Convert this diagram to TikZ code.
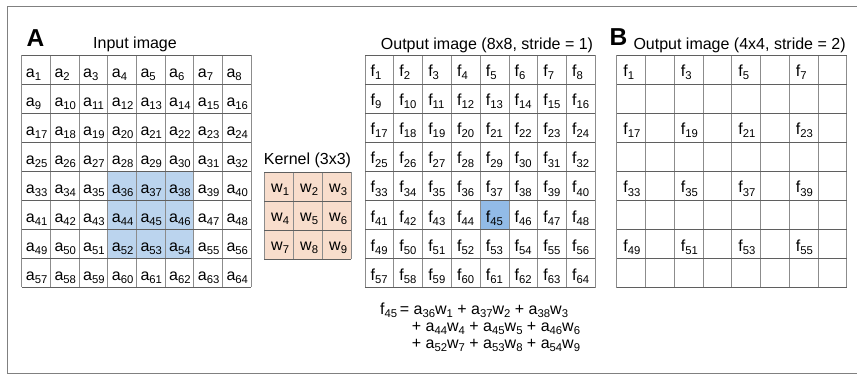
\documentclass[tikz,border=0pt]{standalone}
\usepackage{fontspec}
\setmainfont{Liberation Sans}
\definecolor{selblue}{RGB}{187,212,238}
\definecolor{outblue}{RGB}{146,187,231}
\definecolor{kernpeach}{RGB}{248,221,204}
\definecolor{rowgray}{RGB}{95,95,95}
\definecolor{colgray}{RGB}{140,140,140}
\definecolor{framegray}{RGB}{128,128,128}
% lowered, smaller index digits (kept out of the line's height and depth)
\newcommand\sbs[1]{\raisebox{-3.2pt}[0pt][0pt]{\fontsize{11.3}{11}\selectfont #1}}
\begin{document}
\begin{tikzpicture}[x=1pt,y=-1pt,
  font=\fontsize{16}{19}\selectfont,
  rowline/.style={draw=rowgray, line width=0.8pt},
  colline/.style={draw=colgray, line width=0.8pt},
  cell/.style={anchor=base west, inner sep=0pt},
  title/.style={anchor=base, inner sep=0pt},
  panel/.style={anchor=base west, inner sep=0pt, font=\fontsize{24.5}{26}\selectfont\bfseries},
  eqline/.style={anchor=base west, inner sep=0pt}]
\useasboundingbox (0,0) rectangle (857,375);

% outer frame (open on the right)
\draw[framegray, line width=1.4pt] (870,6.5) -- (7.3,6.5) -- (7.3,373.5) -- (870,373.5);

% panel letters and titles
\node[panel] (labA) at (26.5,46.7) {A};
\node[panel] (labB) at (609.5,45) {B};
\node[title] (tin) at (135,48) {Input image};
\node[title] (tker) at (307.5,164.5) {Kernel (3x3)};
\node[title] (tout) at (487,49) {Output image (8x8, stride = 1)};
\node[anchor=base west, inner sep=0pt] (tstr) at (633.3,49.3) {Output image (4x4, stride = 2)};

% ---------- input image ----------
\fill[selblue] (108,171.7) rectangle (194,258.3);
\foreach \i in {0,...,8} {
  \draw[colline] ({21.7+\i*28.66},55) -- ({21.7+\i*28.66},287.3);
}
\foreach \i in {0,...,8} {
  \draw[rowline] (21.7,{55+\i*29.04}) -- (251,{55+\i*29.04});
}
\foreach \r in {0,...,7} {
  \foreach \c in {0,...,7} {
    \pgfmathtruncatemacro\n{\r*8+\c+1}
    \node[cell] (a\n) at ({21.7+\c*28.66+4},{55+\r*29.04+22}) {a\sbs{\n}};
  }
}

% ---------- kernel ----------
\fill[kernpeach] (264,172.3) rectangle (351,259.3);
\foreach \i in {0,...,3} {
  \draw[colline] ({264+\i*29},172.3) -- ({264+\i*29},259.3);
}
\foreach \i in {0,...,3} {
  \draw[rowline] (264,{172.3+\i*29}) -- (351,{172.3+\i*29});
}
\foreach \r in {0,...,2} {
  \foreach \c in {0,...,2} {
    \pgfmathtruncatemacro\n{\r*3+\c+1}
    \node[cell] (w\n) at ({264+\c*29+7},{172.3+\r*29+20}) {w\sbs{\n}};
  }
}

% ---------- output, stride 1 ----------
\fill[outblue] ({365+4*28.79},{55+5*29.1}) rectangle ({365+5*28.79},{55+6*29.1});
\foreach \i in {0,...,8} {
  \draw[colline] ({365+\i*28.79},55) -- ({365+\i*28.79},287.8);
}
\foreach \i in {0,...,8} {
  \draw[rowline] (365,{55+\i*29.1}) -- (595.3,{55+\i*29.1});
}
\foreach \r in {0,...,7} {
  \foreach \c in {0,...,7} {
    \pgfmathtruncatemacro\n{\r*8+\c+1}
    \node[cell] (f\n) at ({365+\c*28.79+5.5},{55+\r*29.1+21.5}) {f\sbs{\n}};
  }
}

% ---------- output, stride 2 ----------
\foreach \i in {0,...,8} {
  \draw[colline] ({616.7+\i*28.75},55) -- ({616.7+\i*28.75},287.7);
}
\foreach \i in {0,...,8} {
  \draw[rowline] (616.7,{55+\i*29.09}) -- (846.7,{55+\i*29.09});
}
\foreach \r in {0,2,4,6} {
  \foreach \c in {0,2,4,6} {
    \pgfmathtruncatemacro\n{\r*8+\c+1}
    \node[cell] (s\n) at ({616.7+\c*28.75+6.5},{55+\r*29.09+21.5}) {f\sbs{\n}};
  }
}

% ---------- convolution sum ----------
\node[eqline] (eq1) at (380,314.5) {f\sbs{45}\,= a\sbs{36}w\sbs{1} + a\sbs{37}w\sbs{2} + a\sbs{38}w\sbs{3}};
\node[eqline] (eq2) at (411.7,331.5) {+ a\sbs{44}w\sbs{4} + a\sbs{45}w\sbs{5} + a\sbs{46}w\sbs{6}};
\node[eqline] (eq3) at (411.7,348.5) {+ a\sbs{52}w\sbs{7} + a\sbs{53}w\sbs{8} + a\sbs{54}w\sbs{9}};
\end{tikzpicture}
\end{document}
